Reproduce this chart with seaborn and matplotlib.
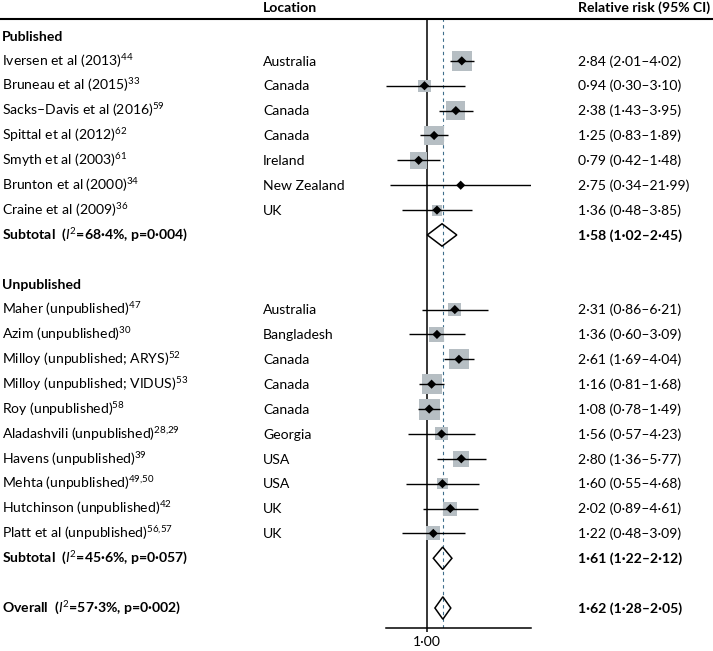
import matplotlib
matplotlib.use("Agg")
import matplotlib.pyplot as plt
from matplotlib.patches import Polygon
from matplotlib.lines import Line2D
from matplotlib.transforms import blended_transform_factory
import seaborn as sns
import pandas as pd

# Data
published_studies = ["Iversen et al (2013)", "Bruneau et al (2015)", "Sacks–Davis et al (2016)",
                     "Spittal et al (2012)", "Smyth et al (2003)", "Brunton et al (2000)",
                     "Craine et al (2009)"]
published_refs = ["44", "33", "59", "62", "61", "34", "36"]
published_locations = ["Australia", "Canada", "Canada", "Canada", "Ireland", "New Zealand", "UK"]
published_rr = [2.84, 0.94, 2.38, 1.25, 0.79, 2.75, 1.36]
published_lo = [2.01, 0.30, 1.43, 0.83, 0.42, 0.34, 0.48]
published_hi = [4.02, 3.10, 3.95, 1.89, 1.48, 21.99, 3.85]
published_weight = [9.4, 3.4, 8.4, 8.9, 6.8, 0.3, 2.8]

unpublished_studies = ["Maher (unpublished)", "Azim (unpublished)", "Milloy (unpublished; ARYS)",
                       "Milloy (unpublished; VIDUS)", "Roy (unpublished)", "Aladashvili (unpublished)",
                       "Havens (unpublished)", "Mehta (unpublished)", "Hutchinson (unpublished)",
                       "Platt et al (unpublished)"]
unpublished_refs = ["47", "30", "52", "53", "58", "28,29", "39", "49,50", "42", "56,57"]
unpublished_locations = ["Australia", "Bangladesh", "Canada", "Canada", "Canada", "Georgia",
                         "USA", "USA", "UK", "UK"]
unpublished_rr = [2.31, 1.36, 2.61, 1.16, 1.08, 1.56, 2.80, 1.60, 2.02, 1.22]
unpublished_lo = [0.86, 0.60, 1.69, 0.81, 0.78, 0.57, 1.36, 0.55, 0.89, 0.48]
unpublished_hi = [6.21, 3.09, 4.04, 1.68, 1.49, 4.23, 5.77, 4.68, 4.61, 3.09]
unpublished_weight = [4.0, 5.3, 9.4, 9.4, 10.3, 4.0, 6.0, 2.8, 4.6, 4.6]

pooled_labels = ["Subtotal", "Subtotal", "Overall"]
pooled_i2 = [68.4, 45.6, 57.3]
pooled_p = [0.004, 0.057, 0.002]
pooled_rr = [1.58, 1.61, 1.62]
pooled_lo = [1.02, 1.22, 1.28]
pooled_hi = [2.45, 2.12, 2.05]

section_titles = ["Published", "Unpublished"]

# Layout rows
pub = pd.DataFrame({"study": published_studies, "ref": published_refs, "location": published_locations,
                    "rr": published_rr, "lo": published_lo, "hi": published_hi, "weight": published_weight})
pub["row"] = range(1, len(pub) + 1)
unpub = pd.DataFrame({"study": unpublished_studies, "ref": unpublished_refs, "location": unpublished_locations,
                      "rr": unpublished_rr, "lo": unpublished_lo, "hi": unpublished_hi, "weight": unpublished_weight})
unpub["row"] = range(len(pub) + 4, len(pub) + 4 + len(unpub))
df = pd.concat([pub, unpub]).reset_index(drop=True)

pooled = pd.DataFrame({"label": pooled_labels, "i2": pooled_i2, "p": pooled_p,
                       "rr": pooled_rr, "lo": pooled_lo, "hi": pooled_hi})
pooled["row"] = [len(pub) + 1, unpub["row"].max() + 1, unpub["row"].max() + 3]
section_rows = [0, len(pub) + 3]

def fmt(x):
    return f"{x:.2f}".replace(".", "·")

# Plot
plt.rcParams["font.family"] = "Lato"
plt.rcParams["mathtext.fontset"] = "custom"
plt.rcParams["mathtext.rm"] = "Lato"
plt.rcParams["mathtext.it"] = "Lato:italic"
plt.rcParams["mathtext.bf"] = "Lato:bold"
FS = 10.1
W, H = 713, 651

fig = plt.figure(figsize=(W / 100, H / 100), dpi=100)
top_px, bottom_px, row0_px, step_px = 19, 628, 36, 24.87
ax = fig.add_axes([386 / W, (H - bottom_px) / H, 144.8 / W, (bottom_px - top_px) / H])

ax.axvline(1, color="black", lw=1.1, zorder=1)
ax.axvline(pooled_rr[-1], color="#3f6e8c", lw=0.8, ls=(0, (3, 3)), zorder=1)

ax.hlines(df["row"], df["lo"], df["hi"], color="black", lw=1.0, zorder=3)
wmax = df["weight"].max()
area_per_w = (20 * 0.72) ** 2 / 9.4
sns.scatterplot(data=df, x="rr", y="row", size="weight", sizes=(0, area_per_w * wmax), size_norm=(0, wmax),
                marker="s", color="#b6bec3", edgecolor="none", legend=False, ax=ax, zorder=2)
sns.scatterplot(data=df, x="rr", y="row", marker="D", color="black", s=22, edgecolor="none",
                legend=False, ax=ax, zorder=4)

for _, r in pooled.iterrows():
    h = 0.45
    ax.add_patch(Polygon([(r.lo, r.row), (r.rr, r.row - h), (r.hi, r.row), (r.rr, r.row + h)],
                         closed=True, fill=False, edgecolor="black", lw=1.1, zorder=3))

ax.set_xscale("log")
ax.set_xlim(min(df["lo"]), max(df["hi"]))
ax.set_ylim((bottom_px - row0_px) / step_px, (top_px - row0_px) / step_px)
ax.set_xticks([1])
ax.set_xticks([], minor=True)
ax.set_xticklabels([fmt(1)])
ax.set_yticks([])
ax.tick_params(axis="x", length=3, width=1.1, pad=3, labelsize=FS)
for s in ["top", "left", "right"]:
    ax.spines[s].set_visible(False)
ax.spines["bottom"].set_linewidth(1.1)
ax.set_xlabel(None)
ax.set_ylabel(None)
ax.patch.set_alpha(0)

tr = blended_transform_factory(fig.transFigure, ax.transData)
x_name, x_loc, x_rr = 2 / W, 263 / W, 578 / W
base = 0.19

fig.add_artist(Line2D([0, 1], [1 - top_px / H, 1 - top_px / H], color="black", lw=1.5))
ax.text(x_loc, -0.98, "Location", transform=tr, fontsize=FS, fontweight="bold", va="baseline")
ax.text(x_rr, -0.98, "Relative risk (95% CI)", transform=tr, fontsize=FS, fontweight="bold", va="baseline")

for title, row in zip(section_titles, section_rows):
    ax.text(x_name, row + base, title, transform=tr, fontsize=FS, fontweight="bold", va="baseline")

for _, r in df.iterrows():
    sup = r.ref.replace(",", "{,}")
    ax.text(x_name, r.row + base, f"{r.study}$^{{{sup}}}$", transform=tr, fontsize=FS, va="baseline")
    ax.text(x_loc, r.row + base, r.location, transform=tr, fontsize=FS, va="baseline")
    ax.text(x_rr, r.row + base, f"{fmt(r.rr)} ({fmt(r.lo)}–{fmt(r.hi)})", transform=tr, fontsize=FS, va="baseline")

for _, r in pooled.iterrows():
    lab = f"{r.label}  ($\\mathit{{I}}^2$={r.i2:.1f}%, p={r.p:.3f})".replace(".", "·")
    ax.text(x_name, r.row + base, lab, transform=tr, fontsize=FS, fontweight="bold", va="baseline")
    ax.text(x_rr, r.row + base, f"{fmt(r.rr)} ({fmt(r.lo)}–{fmt(r.hi)})", transform=tr,
            fontsize=FS, fontweight="bold", va="baseline")

fig.savefig("out.png", dpi=100)
